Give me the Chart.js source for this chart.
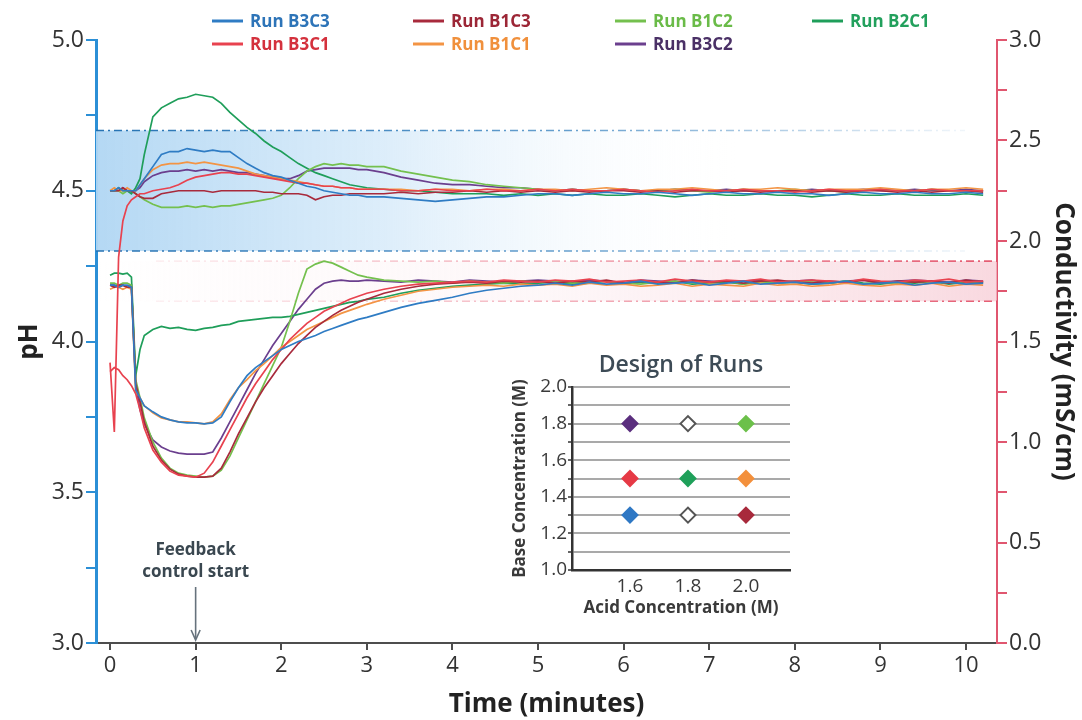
<!DOCTYPE html>
<html><head><meta charset="utf-8">
<script src="https://cdn.jsdelivr.net/npm/chart.js@4.4.1/dist/chart.umd.min.js"></script>
<style>
html,body{margin:0;padding:0;background:#fff;}
#wrap{position:relative;width:1082px;height:720px;overflow:hidden;}
#main{position:absolute;left:0;top:0;}
#inset{position:absolute;left:500px;top:340px;}
</style></head><body>
<div id="wrap"><canvas id="main" width="1082" height="720"></canvas><canvas id="inset" width="300" height="285"></canvas></div>
<script>
// ---------------- DATA ----------------
const T = [0,0.05,0.1,0.15,0.2,0.25,0.3,0.35,0.4,
 0.5,0.6,0.7,0.8,0.9,1.0,1.1,1.2,1.3,1.4,1.5,1.6,1.7,1.8,1.9,2.0,2.1,2.2,2.3,2.4,2.5,2.6,2.7,2.8,2.9,3.0,
 3.2,3.4,3.6,3.8,4.0,4.2,4.4,4.6,4.8,5.0,
 5.2,5.4,5.6,5.8,6.0,6.2,6.4,6.6,6.8,7.0,7.2,7.4,7.6,
 7.8,8.0,8.2,8.4,8.6,8.8,9.0,9.2,9.4,9.6,9.8,10.0,10.2];

// pH (left axis)
const PH_B3C3 = [4.50,4.50,4.51,4.50,4.50,4.50,4.50,4.52,4.54,
 4.58,4.62,4.63,4.63,4.64,4.635,4.63,4.635,4.63,4.63,4.61,4.59,4.575,4.56,4.55,4.545,4.535,4.525,4.515,4.51,4.50,4.495,4.49,4.485,4.485,4.48,
 4.48,4.475,4.47,4.465,4.47,4.475,4.48,4.48,4.485,4.49,
 4.49,4.485,4.49,4.495,4.49,4.49,4.495,4.49,4.485,4.49,4.495,4.49,4.49,
 4.495,4.49,4.49,4.485,4.49,4.495,4.49,4.49,4.495,4.49,4.49,4.495,4.49];
const PH_B3C1 = [3.93,3.70,4.28,4.40,4.45,4.47,4.48,4.49,4.49,
 4.50,4.505,4.51,4.52,4.535,4.545,4.55,4.555,4.56,4.56,4.555,4.555,4.55,4.545,4.54,4.535,4.53,4.525,4.525,4.52,4.515,4.515,4.51,4.51,4.505,4.505,
 4.505,4.50,4.50,4.505,4.50,4.50,4.505,4.50,4.50,4.505,
 4.50,4.505,4.50,4.50,4.505,4.50,4.495,4.50,4.505,4.50,4.50,4.505,4.50,
 4.50,4.495,4.50,4.505,4.50,4.50,4.505,4.50,4.50,4.505,4.50,4.50,4.50];
const PH_B1C3 = [4.50,4.50,4.50,4.51,4.50,4.50,4.49,4.48,4.475,
 4.475,4.49,4.495,4.50,4.50,4.50,4.50,4.495,4.50,4.50,4.50,4.50,4.50,4.495,4.495,4.49,4.49,4.49,4.485,4.47,4.48,4.485,4.485,4.49,4.49,4.49,
 4.49,4.495,4.49,4.495,4.495,4.50,4.495,4.50,4.495,4.50,
 4.495,4.50,4.495,4.50,4.50,4.495,4.50,4.495,4.50,4.50,4.495,4.50,4.495,
 4.50,4.50,4.495,4.50,4.495,4.50,4.50,4.495,4.50,4.495,4.50,4.50,4.495];
const PH_B1C1 = [4.50,4.51,4.50,4.50,4.51,4.50,4.50,4.52,4.54,
 4.57,4.585,4.59,4.59,4.595,4.59,4.595,4.59,4.585,4.58,4.575,4.565,4.555,4.55,4.545,4.54,4.535,4.53,4.525,4.52,4.515,4.515,4.51,4.51,4.505,4.505,
 4.505,4.505,4.50,4.505,4.505,4.50,4.505,4.505,4.50,4.505,
 4.505,4.50,4.505,4.51,4.505,4.50,4.505,4.505,4.51,4.505,4.50,4.505,4.505,
 4.51,4.505,4.50,4.505,4.505,4.505,4.51,4.505,4.50,4.505,4.505,4.51,4.505];
const PH_B1C2 = [4.50,4.50,4.50,4.49,4.50,4.50,4.49,4.48,4.47,
 4.455,4.445,4.445,4.445,4.45,4.445,4.45,4.445,4.45,4.45,4.455,4.46,4.465,4.47,4.475,4.485,4.51,4.54,4.565,4.58,4.59,4.585,4.59,4.585,4.585,4.58,
 4.58,4.565,4.555,4.545,4.535,4.53,4.52,4.515,4.51,4.505,
 4.50,4.505,4.50,4.50,4.505,4.50,4.50,4.505,4.50,4.495,4.50,4.505,4.50,
 4.50,4.505,4.50,4.50,4.495,4.50,4.505,4.50,4.50,4.505,4.50,4.50,4.50];
const PH_B2C1 = [4.50,4.50,4.51,4.50,4.50,4.49,4.51,4.54,4.62,
 4.745,4.775,4.79,4.805,4.81,4.82,4.815,4.81,4.79,4.76,4.735,4.71,4.69,4.665,4.645,4.63,4.61,4.59,4.575,4.56,4.55,4.54,4.53,4.52,4.515,4.51,
 4.505,4.50,4.50,4.495,4.49,4.49,4.49,4.485,4.49,4.485,
 4.49,4.485,4.49,4.485,4.485,4.49,4.485,4.48,4.485,4.49,4.485,4.485,4.49,
 4.485,4.485,4.48,4.485,4.49,4.485,4.485,4.49,4.485,4.485,4.485,4.49,4.485];
const PH_B3C2 = [4.50,4.50,4.50,4.51,4.50,4.50,4.50,4.51,4.53,
 4.55,4.56,4.565,4.565,4.57,4.565,4.57,4.565,4.57,4.565,4.56,4.56,4.555,4.55,4.545,4.54,4.54,4.55,4.565,4.57,4.575,4.575,4.575,4.575,4.57,4.57,
 4.56,4.545,4.535,4.525,4.52,4.52,4.515,4.51,4.51,4.505,
 4.50,4.505,4.50,4.50,4.505,4.50,4.50,4.505,4.50,4.50,4.505,4.50,4.50,
 4.495,4.50,4.505,4.50,4.50,4.505,4.50,4.50,4.505,4.50,4.50,4.505,4.50];

// Conductivity, mS/cm (right axis)
const C_B3C3 = [1.78,1.78,1.77,1.78,1.78,1.77,1.26,1.22,1.18,
 1.15,1.125,1.11,1.10,1.095,1.095,1.09,1.095,1.125,1.20,1.27,1.33,1.37,1.40,1.43,1.46,1.48,1.50,1.515,1.53,1.55,1.565,1.58,1.595,1.61,1.62,
 1.645,1.67,1.69,1.705,1.72,1.74,1.755,1.765,1.775,1.78,
 1.79,1.78,1.795,1.785,1.79,1.80,1.785,1.79,1.795,1.78,1.79,1.80,1.785,
 1.79,1.795,1.785,1.79,1.80,1.785,1.79,1.795,1.78,1.79,1.795,1.785,1.79];
const C_B3C1 = [1.35,1.37,1.36,1.33,1.31,1.28,1.24,1.16,1.07,
 0.96,0.90,0.855,0.835,0.83,0.825,0.845,0.90,0.98,1.06,1.14,1.22,1.29,1.35,1.41,1.46,1.51,1.55,1.59,1.62,1.65,1.67,1.69,1.71,1.725,1.74,
 1.76,1.775,1.785,1.79,1.795,1.80,1.795,1.805,1.80,1.795,
 1.805,1.80,1.81,1.795,1.80,1.805,1.795,1.81,1.80,1.795,1.805,1.80,1.81,
 1.795,1.80,1.805,1.80,1.795,1.81,1.80,1.795,1.805,1.80,1.81,1.795,1.80];
const C_B1C3 = [1.78,1.77,1.78,1.78,1.77,1.77,1.29,1.20,1.10,
 0.98,0.91,0.865,0.84,0.83,0.825,0.825,0.83,0.87,0.95,1.04,1.12,1.20,1.27,1.33,1.39,1.44,1.49,1.53,1.57,1.60,1.63,1.655,1.675,1.695,1.71,
 1.74,1.76,1.775,1.785,1.79,1.795,1.79,1.80,1.795,1.80,
 1.79,1.80,1.795,1.805,1.79,1.80,1.795,1.79,1.805,1.795,1.80,1.79,1.80,
 1.805,1.795,1.79,1.80,1.795,1.805,1.79,1.80,1.795,1.80,1.79,1.805,1.795];
const C_B1C1 = [1.76,1.77,1.77,1.76,1.77,1.76,1.25,1.22,1.18,
 1.145,1.12,1.11,1.10,1.10,1.095,1.09,1.10,1.14,1.21,1.27,1.31,1.355,1.39,1.43,1.47,1.50,1.53,1.56,1.58,1.60,1.62,1.64,1.655,1.67,1.685,
 1.71,1.73,1.75,1.76,1.77,1.775,1.78,1.775,1.785,1.78,
 1.785,1.775,1.79,1.78,1.785,1.775,1.78,1.79,1.775,1.785,1.78,1.775,1.79,
 1.78,1.785,1.775,1.78,1.79,1.78,1.775,1.785,1.78,1.79,1.775,1.785,1.78];
const C_B1C2 = [1.79,1.79,1.78,1.79,1.79,1.78,1.31,1.22,1.12,
 1.00,0.92,0.87,0.845,0.835,0.83,0.825,0.83,0.86,0.93,1.02,1.11,1.20,1.29,1.38,1.47,1.60,1.74,1.86,1.885,1.90,1.89,1.87,1.85,1.83,1.82,
 1.805,1.80,1.795,1.80,1.79,1.80,1.795,1.79,1.80,1.795,
 1.80,1.79,1.795,1.80,1.79,1.785,1.795,1.80,1.79,1.795,1.80,1.785,1.795,
 1.79,1.80,1.795,1.79,1.80,1.785,1.795,1.79,1.80,1.795,1.79,1.80,1.795];
const C_B2C1 = [1.83,1.84,1.84,1.835,1.84,1.82,1.33,1.46,1.53,
 1.56,1.575,1.565,1.57,1.56,1.555,1.565,1.57,1.58,1.585,1.60,1.605,1.61,1.615,1.62,1.62,1.625,1.635,1.645,1.655,1.665,1.675,1.685,1.695,1.70,1.71,
 1.72,1.74,1.755,1.765,1.775,1.78,1.785,1.79,1.785,1.79,
 1.795,1.785,1.79,1.80,1.785,1.795,1.79,1.80,1.785,1.79,1.795,1.785,1.80,
 1.79,1.795,1.785,1.79,1.80,1.79,1.785,1.795,1.79,1.80,1.785,1.795,1.79];
const C_B3C2 = [1.78,1.78,1.77,1.78,1.77,1.78,1.28,1.16,1.09,
 1.01,0.975,0.955,0.945,0.94,0.94,0.94,0.95,1.02,1.10,1.18,1.26,1.34,1.41,1.48,1.54,1.60,1.66,1.71,1.76,1.79,1.80,1.805,1.80,1.80,1.805,
 1.80,1.795,1.805,1.80,1.795,1.805,1.80,1.795,1.80,1.805,
 1.80,1.795,1.805,1.80,1.79,1.805,1.80,1.795,1.805,1.80,1.795,1.80,1.805,
 1.795,1.80,1.805,1.79,1.80,1.805,1.795,1.80,1.805,1.80,1.795,1.805,1.80];

const X_TICKS = [0,1,2,3,4,5,6,7,8,9,10];
const PH_TICKS = [3.0,3.25,3.5,3.75,4.0,4.25,4.5,4.75,5.0];
const COND_TICKS = [0,0.25,0.5,0.75,1.0,1.25,1.5,1.75,2.0,2.25,2.5,2.75,3.0];
const PH_BAND = [4.3, 4.7];
const COND_BAND = [1.7, 1.9];
const FEEDBACK_T = 1;

// Design of runs inset
const DESIGN_ACID = [1.6,1.8,2.0,1.6,1.8,2.0,1.6,1.8,2.0];
const DESIGN_BASE = [1.8,1.8,1.8,1.5,1.5,1.5,1.3,1.3,1.3];
const DESIGN_X_TICKS = [1.6,1.8,2.0];
const DESIGN_Y_TICKS = [1.0,1.1,1.2,1.3,1.4,1.5,1.6,1.7,1.8,1.9,2.0];

// ---------------- STYLE ----------------
const FONT = "'Open Sans', 'Noto Sans', sans-serif";
Chart.defaults.font.family = FONT;
const RUNS = ['B3C3','B3C1','B1C3','B1C1','B1C2','B2C1','B3C2'];
const LINE_COL = {B3C3:'#2f7cc4',B3C1:'#e8424f',B1C3:'#a82a3c',B1C1:'#f39444',B1C2:'#74c04e',B2C1:'#1f9e5a',B3C2:'#6b3f8e'};
const TEXT_COL = {B3C3:'#2d74b8',B3C1:'#d4313d',B1C3:'#9c2636',B1C1:'#f0903c',B1C2:'#6abb48',B2C1:'#22a05c',B3C2:'#4a3066'};
const PH_DATA = {B3C3:PH_B3C3,B3C1:PH_B3C1,B1C3:PH_B1C3,B1C1:PH_B1C1,B1C2:PH_B1C2,B2C1:PH_B2C1,B3C2:PH_B3C2};
const C_DATA = {B3C3:C_B3C3,B3C1:C_B3C1,B1C3:C_B1C3,B1C1:C_B1C1,B1C2:C_B1C2,B2C1:C_B2C1,B3C2:C_B3C2};
const LEGEND_POS = {B3C3:[212,21],B1C3:[413,21],B1C2:[615,21],B2C1:[812,21],B3C1:[212,44],B1C1:[413,44],B3C2:[615,44]};
const DESIGN_FILL = ['#5b2f7e','#ffffff','#6cc04a','#e63a46','#1fa05a','#f3903c','#2f78c4','#ffffff','#a82a3c'];
const DESIGN_EDGE = ['#5b2f7e','#555555','#6cc04a','#e63a46','#1fa05a','#f3903c','#2f78c4','#555555','#a82a3c'];

const series = (arr) => T.map((t,i)=>({x:t, y: (arr[i]===undefined? null : arr[i])}));
const datasets = [];
RUNS.forEach(r=>{
  datasets.push({label:'Run '+r+' pH', data:series(PH_DATA[r]), yAxisID:'y', borderColor:LINE_COL[r], borderWidth:1.7, pointRadius:0, tension:0, fill:false});
});
RUNS.forEach(r=>{
  datasets.push({label:'Run '+r+' cond', data:series(C_DATA[r]), yAxisID:'y2', borderColor:LINE_COL[r], borderWidth:1.7, pointRadius:0, tension:0, fill:false});
});

const isHalf = v => Math.abs(v*2 - Math.round(v*2)) < 1e-6;

const bandPlugin = {
  id:'bands',
  beforeDatasetsDraw(chart){
    const {ctx, chartArea:ca, scales:{y, y2}} = chart;
    ctx.save();
    const pt = y.getPixelForValue(PH_BAND[1]), pb = y.getPixelForValue(PH_BAND[0]);
    let g = ctx.createLinearGradient(ca.left,0,ca.left+640,0);
    g.addColorStop(0,'rgba(176,214,243,0.95)');
    g.addColorStop(0.45,'rgba(212,233,249,0.8)');
    g.addColorStop(1,'rgba(255,255,255,0)');
    ctx.fillStyle = g; ctx.fillRect(ca.left, pt, ca.right-ca.left, pb-pt);
    const ct = y2.getPixelForValue(COND_BAND[1]), cb = y2.getPixelForValue(COND_BAND[0]);
    g = ctx.createLinearGradient(ca.left,0,ca.right,0);
    g.addColorStop(0,'rgba(250,222,228,0)');
    g.addColorStop(0.5,'rgba(250,228,233,0.3)');
    g.addColorStop(1,'rgba(246,200,210,0.7)');
    ctx.fillStyle = g; ctx.fillRect(ca.left, ct, ca.right-ca.left, cb-ct);
    ctx.lineWidth = 1.6; ctx.setLineDash([8,4,2,4]);
    const bEnd = ca.right-32;
    g = ctx.createLinearGradient(ca.left,0,bEnd,0);
    g.addColorStop(0,'rgba(28,108,175,0.95)');
    g.addColorStop(0.55,'rgba(40,120,185,0.7)');
    g.addColorStop(1,'rgba(60,130,190,0.08)');
    ctx.strokeStyle = g;
    [pt,pb].forEach(py=>{ctx.beginPath(); ctx.moveTo(ca.left,py); ctx.lineTo(bEnd,py); ctx.stroke();});
    const pStart = ca.left+60;
    g = ctx.createLinearGradient(pStart,0,ca.right,0);
    g.addColorStop(0,'rgba(236,130,148,0.12)');
    g.addColorStop(1,'rgba(226,76,100,0.9)');
    ctx.strokeStyle = g;
    [ct,cb].forEach(py=>{ctx.beginPath(); ctx.moveTo(pStart,py); ctx.lineTo(ca.right,py); ctx.stroke();});
    ctx.restore();
  }
};

const annoPlugin = {
  id:'anno',
  afterDraw(chart){
    const {ctx, scales:{x}} = chart;
    const ax = x.getPixelForValue(FEEDBACK_T);
    ctx.save();
    ctx.fillStyle = '#3a4750';
    ctx.font = "bold 17px " + FONT;
    ctx.textAlign = 'center'; ctx.textBaseline = 'middle';
    ctx.fillText('Feedback', ax, 550);
    ctx.fillText('control start', ax, 572);
    ctx.strokeStyle = '#66727c'; ctx.lineWidth = 1.6;
    ctx.beginPath(); ctx.moveTo(ax,587); ctx.lineTo(ax,639); ctx.stroke();
    ctx.beginPath(); ctx.moveTo(ax-4.5,630); ctx.lineTo(ax,640); ctx.lineTo(ax+4.5,630); ctx.stroke();
    // legend
    ctx.font = "bold 17px " + FONT;
    ctx.textAlign = 'left';
    RUNS.forEach(r=>{
      const [lx,ly] = LEGEND_POS[r];
      ctx.strokeStyle = LINE_COL[r]; ctx.lineWidth = 3;
      ctx.beginPath(); ctx.moveTo(lx,ly); ctx.lineTo(lx+31,ly); ctx.stroke();
      ctx.fillStyle = TEXT_COL[r];
      ctx.fillText('Run '+r, lx+38, ly+1);
    });
    ctx.restore();
  }
};

new Chart(document.getElementById('main'), {
  type:'line',
  data:{datasets},
  options:{
    responsive:false, animation:false, devicePixelRatio:1,
    layout:{padding:{top:40,left:0,right:0,bottom:0}},
    plugins:{legend:{display:false}, tooltip:{enabled:false}},
    scales:{
      x:{type:'linear', min:-0.164, max:10.362,
        afterBuildTicks:s=>{s.ticks = X_TICKS.map(v=>({value:v}));},
        border:{color:'#4d4d4d', width:2},
        grid:{drawOnChartArea:false, color:'#4d4d4d', lineWidth:2, tickLength:7},
        ticks:{font:{size:22}, color:'#333', padding:3, autoSkip:false, maxRotation:0, callback:v=>String(v)},
        title:{display:true, text:'Time (minutes)', font:{size:26, weight:'bold'}, color:'#222', padding:{top:0,bottom:0}},
        afterFit:s=>{s.height=77;}
      },
      y:{position:'left', min:3, max:5,
        afterBuildTicks:s=>{s.ticks = PH_TICKS.map(v=>({value:v}));},
        border:{color:'#2b8fd6', width:3},
        grid:{drawOnChartArea:false, color:'#2b8fd6', lineWidth:2, tickLength:10},
        ticks:{font:{size:23}, color:'#333', padding:2, autoSkip:false, callback:v=> isHalf(v)? v.toFixed(1):''},
        title:{display:true, text:'pH', font:{size:26, weight:'bold'}, color:'#222', padding:{top:14,bottom:0}},
        afterFit:s=>{s.width=96;}
      },
      y2:{position:'right', min:0, max:3,
        afterBuildTicks:s=>{s.ticks = COND_TICKS.map(v=>({value:v}));},
        border:{color:'#e0566f', width:2},
        grid:{drawOnChartArea:false, color:'#e0566f', lineWidth:2, tickLength:10},
        ticks:{font:{size:23}, color:'#333', padding:2, autoSkip:false, callback:v=> isHalf(v)? v.toFixed(1):''},
        title:{display:true, text:'Conductivity (mS/cm)', font:{size:26, weight:'bold'}, color:'#222', padding:{top:3,bottom:0}},
        afterFit:s=>{s.width=85;}
      }
    }
  },
  plugins:[bandPlugin, annoPlugin]
});

const insetTitle = {
  id:'insetTitle',
  afterDraw(chart){
    const {ctx, chartArea:ca} = chart;
    ctx.save();
    ctx.font = "600 23px " + FONT;
    ctx.fillStyle = '#3d4b56';
    ctx.textAlign = 'center'; ctx.textBaseline = 'middle';
    ctx.fillText('Design of Runs', (ca.left+ca.right)/2, 25);
    ctx.restore();
  }
};

new Chart(document.getElementById('inset'), {
  type:'scatter',
  data:{datasets:[{
    data: DESIGN_ACID.map((a,i)=>({x:a, y:DESIGN_BASE[i]})),
    pointStyle:'rectRot', pointRadius:7.5, pointHoverRadius:7.5,
    backgroundColor: DESIGN_FILL, borderColor: DESIGN_EDGE, borderWidth:2
  }]},
  options:{
    responsive:false, animation:false, devicePixelRatio:1,
    layout:{padding:{top:47,right:10,left:0,bottom:0}},
    plugins:{legend:{display:false}, tooltip:{enabled:false}},
    scales:{
      x:{type:'linear', min:1.4, max:2.152,
        afterBuildTicks:s=>{s.ticks = DESIGN_X_TICKS.map(v=>({value:v}));},
        border:{color:'#333', width:2.5},
        grid:{display:false, drawTicks:false},
        ticks:{font:{size:19}, color:'#3a3a3a', padding:5, autoSkip:false, maxRotation:0, callback:v=>v.toFixed(1)},
        title:{display:true, text:'Acid Concentration (M)', font:{size:17, weight:'bold'}, color:'#3a3a3a', padding:{top:0,bottom:7}},
        afterFit:s=>{s.height=55;}
      },
      y:{min:1, max:2,
        afterBuildTicks:s=>{s.ticks = DESIGN_Y_TICKS.map(v=>({value:v}));},
        border:{color:'#333', width:2.5},
        grid:{color:'#a9a9a9', lineWidth:2, tickLength:4, tickColor:'#333', tickWidth:1.5},
        ticks:{font:{size:19}, color:'#3a3a3a', padding:1, autoSkip:false, callback:v=> (Math.abs(v*5-Math.round(v*5))<1e-6)? v.toFixed(1):''},
        title:{display:true, text:'Base Concentration (M)', font:{size:17, weight:'bold'}, color:'#3a3a3a', padding:{top:10,bottom:0}},
        afterFit:s=>{s.width=72;}
      }
    }
  },
  plugins:[insetTitle]
});
</script>
</body></html>
